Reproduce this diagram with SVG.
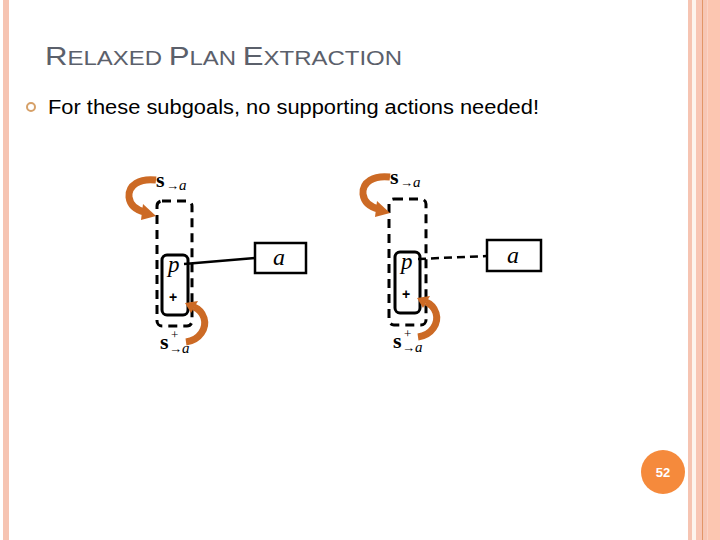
<svg xmlns="http://www.w3.org/2000/svg" width="720" height="540" viewBox="0 0 720 540">
  <style>
    .title { font-family: "Liberation Sans", Arial, sans-serif; fill: #5b606b; }
    .body { font-family: "Liberation Sans", Arial, sans-serif; font-size: 20px; fill: #000; }
    .math { font-family: "Liberation Serif", "Times New Roman", serif; font-style: italic; fill: #000; }
    .sb { font-family: "Liberation Serif", "Times New Roman", serif; font-weight: bold; font-size: 22px; fill: #000; }
    .sub { font-family: "Liberation Serif", "Times New Roman", serif; font-size: 13px; fill: #000; }
    .dashbox { fill: none; stroke: #000; stroke-width: 3; stroke-dasharray: 9 6; }
    .solidbox { fill: #fff; stroke: #000; stroke-width: 3; }
    .abox { fill: #fff; stroke: #000; stroke-width: 2.5; }
    .arc { fill: none; stroke: #cc6a25; stroke-width: 7; stroke-linecap: butt; }
    .head { fill: #cc6a25; }
    .plus { font-family: "Liberation Sans", Arial, sans-serif; font-weight: bold; font-size: 14px; fill: #000; }
  </style>
  <rect x="0" y="0" width="720" height="540" fill="#fff"/>
  <rect x="3" y="0" width="6" height="540" fill="#f6c4b2"/>
  <rect x="688" y="0" width="4" height="540" fill="#f6c4b2"/>
  <rect x="692" y="0" width="4" height="540" fill="#fdf4ee"/>
  <rect x="696" y="0" width="6" height="540" fill="#f8c6b5"/>
  <rect x="702" y="0" width="1.5" height="540" fill="#e39568"/>
  <rect x="703.5" y="0" width="4" height="540" fill="#f8c6b5"/>
  <rect x="707.5" y="0" width="12.5" height="540" fill="#fcc6b1"/>

  <g id="title">
    <text class="title" x="45" y="65" textLength="357" lengthAdjust="spacingAndGlyphs"><tspan font-size="26">R</tspan><tspan font-size="20">ELAXED </tspan><tspan font-size="26">P</tspan><tspan font-size="20">LAN </tspan><tspan font-size="26">E</tspan><tspan font-size="20">XTRACTION</tspan></text>
  </g>
  <g id="bullet">
    <circle cx="31" cy="107" r="4" fill="none" stroke="#d6a068" stroke-width="2"/>
    <text class="body" x="48" y="114" textLength="491" lengthAdjust="spacingAndGlyphs">For these subgoals, no supporting actions needed!</text>
  </g>

  <g id="left-state">
    <rect class="dashbox" x="157" y="201" width="35" height="125" rx="5"/>
    <rect class="solidbox" x="162" y="255" width="26" height="60" rx="5"/>
    <text class="math" x="168" y="272" font-size="23">p</text>
    <text class="plus" x="169" y="302">+</text>
  </g>
  <g id="left-action">
    <rect class="abox" x="255" y="243" width="51" height="30"/>
    <text class="math" x="279" y="265" font-size="24" text-anchor="middle">a</text>
  </g>
  <g id="left-labels">
    <text class="sb" x="156" y="187">s</text>
    <text class="sub" x="166" y="190">→<tspan font-style="italic" font-size="15">a</tspan></text>
    <text class="sb" x="160" y="349">s</text>
    <text class="sub" x="171" y="339">+</text>
    <text class="sub" x="169" y="353">→<tspan font-style="italic" font-size="15">a</tspan></text>
  </g>

  <g id="right-state">
    <rect class="dashbox" x="389" y="199" width="37" height="126" rx="5"/>
    <rect class="solidbox" x="395" y="252" width="25" height="61" rx="5"/>
    <text class="math" x="401" y="269" font-size="23">p</text>
    <text class="plus" x="402" y="299">+</text>
  </g>
  <g id="right-action">
    <rect class="abox" x="487" y="240" width="54" height="31"/>
    <text class="math" x="513" y="263" font-size="24" text-anchor="middle">a</text>
  </g>
  <g id="right-labels">
    <text class="sb" x="390" y="184">s</text>
    <text class="sub" x="400" y="187">→<tspan font-style="italic" font-size="15">a</tspan></text>
    <text class="sb" x="393" y="348">s</text>
    <text class="sub" x="404" y="338">+</text>
    <text class="sub" x="402" y="352">→<tspan font-style="italic" font-size="15">a</tspan></text>
  </g>

  <g id="connectors">
    <line x1="184" y1="264" x2="255" y2="258" stroke="#000" stroke-width="2.5"/>
    <line x1="418" y1="259" x2="487" y2="256" stroke="#000" stroke-width="2.5" stroke-dasharray="8 5"/>
    <path class="arc" d="M156,180 C140,178 128,185 129,197 C130,205 136,210 145,212"/>
    <polygon class="head" points="143,204 156,216 141,220"/>
    <path class="arc" d="M186,342 C200,340 207,328 204,318 C202,312 199,309 194,307"/>
    <polygon class="head" points="185,303 198,301 191,313"/>
    <path class="arc" d="M390,177 C374,175 362,182 363,194 C364,202 370,207 379,209"/>
    <polygon class="head" points="377,201 390,213 375,217"/>
    <path class="arc" d="M418,337 C432,335 439,323 436,313 C434,307 431,304 426,302"/>
    <polygon class="head" points="417,298 430,296 423,308"/>
  </g>

  <g id="page-number">
    <circle cx="663" cy="472" r="22" fill="#f58a3c"/>
    <text x="663" y="477" font-family="Liberation Sans, Arial, sans-serif" font-size="13" font-weight="bold" fill="#fff" text-anchor="middle">52</text>
  </g>
</svg>
